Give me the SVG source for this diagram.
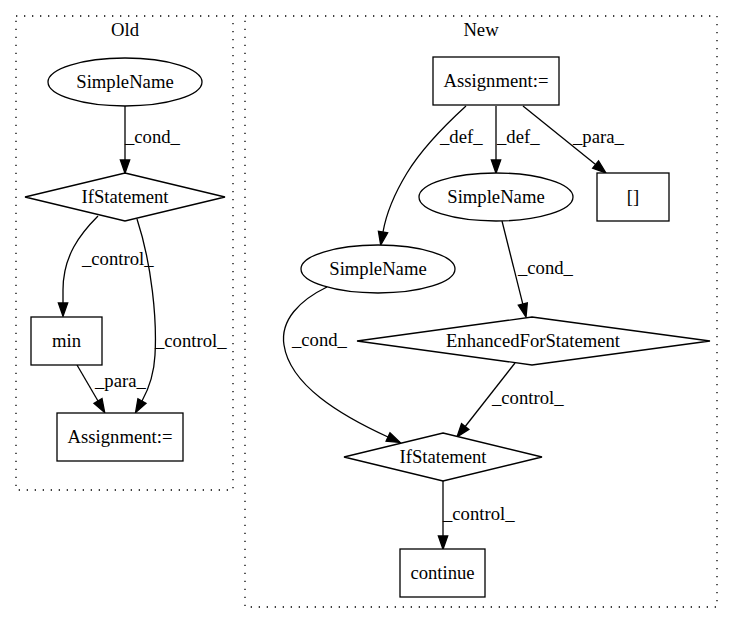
<svg xmlns="http://www.w3.org/2000/svg" width="733" height="624" viewBox="0 0 733 624">
<style>
text{font-family:"Liberation Serif","Times New Roman",serif;font-size:18.67px;fill:#000}
.c{text-anchor:middle}
.cl{fill:none;stroke:#000;stroke-width:1.3;stroke-dasharray:1.3,6.7}
.n{fill:#fff;stroke:#000;stroke-width:1.3}
.e{fill:none;stroke:#000;stroke-width:1.3;marker-end:url(#ah)}
</style>
<defs>
<marker id="ah" markerUnits="userSpaceOnUse" markerWidth="15" markerHeight="11" refX="0" refY="4.67" orient="auto" overflow="visible">
<path d="M0,0 L13.3,4.67 L0,9.33 z" fill="#000" stroke="#000" stroke-width="1.3"/>
</marker>
</defs>
<rect width="733" height="624" fill="#fff"/>
<g id="cluster_old">
<rect class="cl" x="16" y="16" width="217" height="474"/>
<text class="c" x="125" y="36">Old</text>
</g>
<g id="cluster_new">
<rect class="cl" x="245" y="16" width="472" height="591"/>
<text class="c" x="481" y="36">New</text>
</g>
<g id="edges">
<path class="e" d="M125,106 L125,160"/>
<text x="125" y="143">_cond_</text>
<path class="e" d="M98,216 C80,234 63,256 63,290 L63,303"/>
<text x="82" y="265">_control_</text>
<path class="e" d="M137,219 C152,265 157,320 155,355 C154,375 147,392 142,401"/>
<text x="155" y="347">_control_</text>
<path class="e" d="M77,365 L98,401"/>
<text x="95" y="387">_para_</text>
<path class="e" d="M466,106 C443,127 421,150 407,173 C393,196 386,215 383,232"/>
<text x="440" y="143">_def_</text>
<path class="e" d="M496,106 L496,160"/>
<text x="497" y="143">_def_</text>
<path class="e" d="M523,106 L595.6,164.6"/>
<text x="573" y="143">_para_</text>
<path class="e" d="M502,221 L522.8,304.1"/>
<text x="518" y="274">_cond_</text>
<path class="e" d="M327,287 C300,300 280,320 284,345 C290,385 340,415 388,437"/>
<text x="292" y="346">_cond_</text>
<path class="e" d="M515,363 L465.2,426.5"/>
<text x="492" y="404">_control_</text>
<path class="e" d="M443,481 L443,536"/>
<text x="443" y="520">_control_</text>
</g>
<g id="old_simplename">
<ellipse class="n" cx="125" cy="82" rx="77" ry="24"/>
<text class="c" x="125" y="88">SimpleName</text>
</g>
<g id="old_ifstatement">
<polygon class="n" points="125,173 225,197 125,221 25,197"/>
<text class="c" x="125" y="203">IfStatement</text>
</g>
<g id="old_min">
<rect class="n" x="31" y="317" width="71" height="48"/>
<text class="c" x="66.5" y="347">min</text>
</g>
<g id="old_assignment">
<rect class="n" x="57" y="413" width="126" height="48"/>
<text class="c" x="120" y="443">Assignment:=</text>
</g>
<g id="new_assignment">
<rect class="n" x="433" y="57" width="126" height="48"/>
<text class="c" x="496" y="87">Assignment:=</text>
</g>
<g id="new_simplename_mid">
<ellipse class="n" cx="496" cy="197" rx="77" ry="24"/>
<text class="c" x="496" y="203">SimpleName</text>
</g>
<g id="new_brackets">
<rect class="n" x="597" y="173" width="72" height="48"/>
<text class="c" x="633" y="203">[]</text>
</g>
<g id="new_simplename_left">
<ellipse class="n" cx="378" cy="269" rx="77" ry="24"/>
<text class="c" x="378" y="275">SimpleName</text>
</g>
<g id="new_enhancedfor">
<polygon class="n" points="532,317 710,341 532,365 357,341"/>
<text class="c" x="533" y="347">EnhancedForStatement</text>
</g>
<g id="new_ifstatement">
<polygon class="n" points="443,433 542,457 443,481 344,457"/>
<text class="c" x="443" y="463">IfStatement</text>
</g>
<g id="new_continue">
<rect class="n" x="400" y="549" width="85" height="48"/>
<text class="c" x="442.5" y="579">continue</text>
</g>
</svg>
